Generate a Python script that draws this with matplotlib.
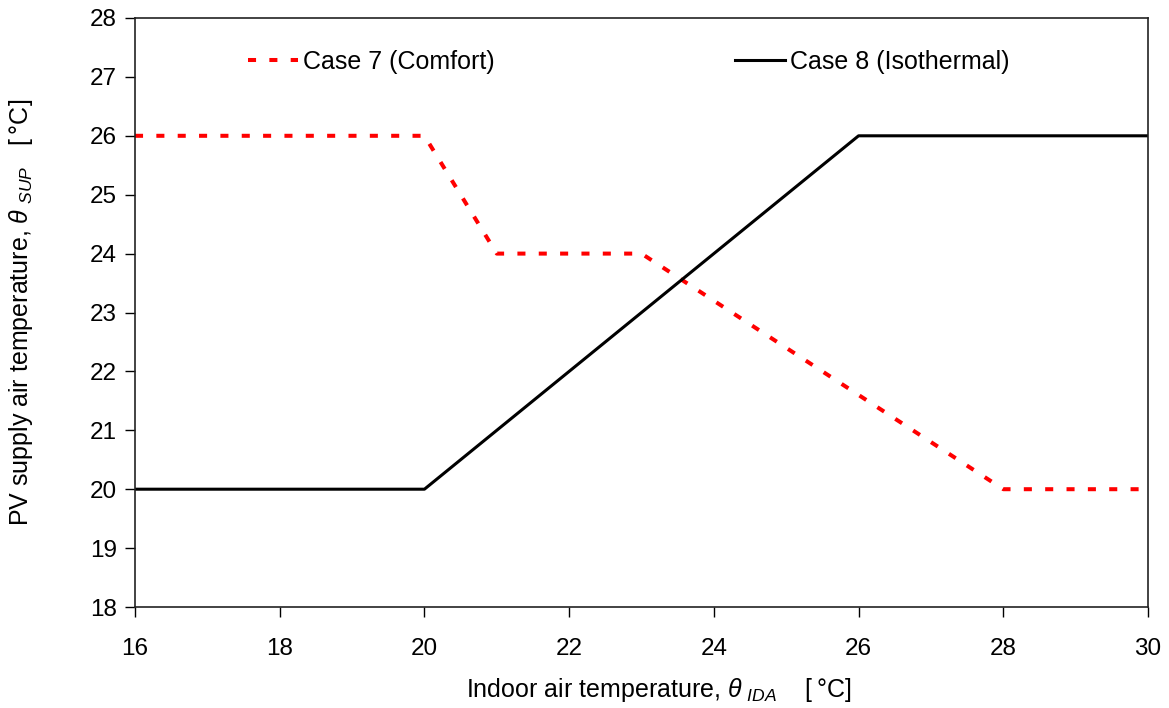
import matplotlib
matplotlib.use("Agg")
import matplotlib.pyplot as plt

plt.rcParams['font.family'] = ['Liberation Sans', 'DejaVu Sans']
plt.rcParams['mathtext.fontset'] = 'custom'
plt.rcParams['mathtext.rm'] = 'Liberation Sans'
plt.rcParams['mathtext.it'] = 'Liberation Sans:italic'

# Data
case7_x = [16, 20, 21, 23, 28, 30]
case7_y = [26, 26, 24, 24, 20, 20]
case8_x = [16, 20, 26, 30]
case8_y = [20, 20, 26, 26]
case7_label = "Case 7 (Comfort)"
case8_label = "Case 8 (Isothermal)"
xticks = [16, 18, 20, 22, 24, 26, 28, 30]
yticks = [18, 19, 20, 21, 22, 23, 24, 25, 26, 27, 28]

FS = 17.5
LFS = 18

fig = plt.figure(figsize=(11.69, 7.08), dpi=100)
ax = fig.add_axes([135/1169, 1-607/708, (1148-135)/1169, (607-18)/708])

l7, = ax.plot(case7_x, case7_y, color='#ff0000', lw=2.9, linestyle=(0, (2.0, 3.3)))
l8, = ax.plot(case8_x, case8_y, color='black', lw=2.2)

ax.set_xlim(16, 30)
ax.set_ylim(18, 28)
ax.set_xticks(xticks)
ax.set_yticks(yticks)
ax.tick_params(direction='out', length=7.2, width=1, labelsize=FS)
ax.tick_params(axis='x', pad=15)
ax.tick_params(axis='y', pad=6)
for s in ax.spines.values():
    s.set_linewidth(1.2)
    s.set_color('#222222')

ax.set_xlabel('Indoor air temperature, $\\theta\\;_{IDA}$    [\u2009°C]', fontsize=LFS)
ax.set_ylabel('PV supply air temperature, $\\theta\\;_{SUP}$   [\u2009°C]', fontsize=LFS)
ax.xaxis.set_label_coords(0.517, -0.117)
ax.yaxis.set_label_coords(-0.0985, 0.5)

leg1 = fig.legend([l7], [case7_label], loc='center left',
                  bbox_to_anchor=(248/1169, 1-62/708), frameon=False,
                  fontsize=18, borderpad=0, borderaxespad=0,
                  handlelength=2.0, handletextpad=0.2)
leg2 = fig.legend([l8], [case8_label], loc='center left',
                  bbox_to_anchor=(735/1169, 1-62/708), frameon=False,
                  fontsize=18, borderpad=0, borderaxespad=0,
                  handlelength=2.0, handletextpad=0.2)

fig.savefig('out.png', dpi=100)
